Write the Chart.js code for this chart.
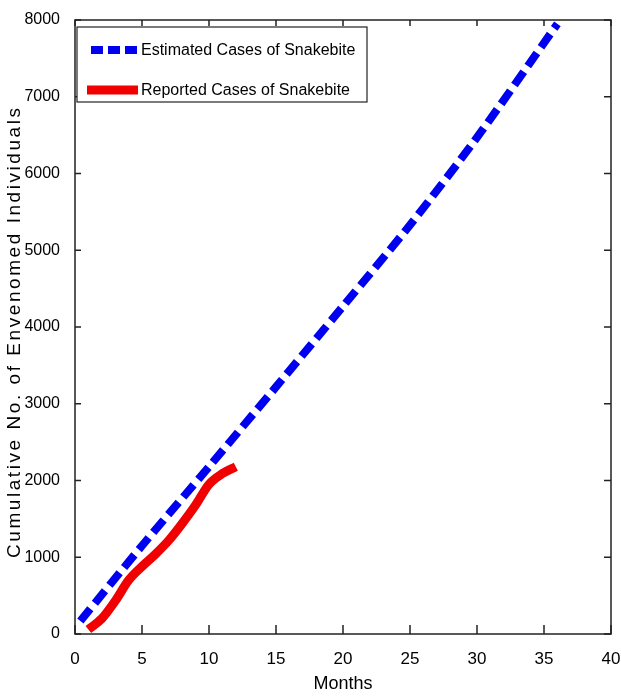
<!DOCTYPE html>
<html>
<head>
<meta charset="utf-8">
<script src="https://cdn.jsdelivr.net/npm/chart.js@4.4.0/dist/chart.umd.min.js"></script>
<style>
  html, body { margin: 0; padding: 0; background: #fff; }
  #wrap { width: 621px; height: 697px; }
</style>
</head>
<body>
<div id="wrap"><canvas id="snakeChart"></canvas></div>
<script>
// values
const estimatedMonths = [0.4, 5, 10, 15, 20, 25, 30, 36];
const estimatedCases = [170, 1150, 2180, 3220, 4270, 5330, 6470, 7950];
const reportedMonths = [1, 2, 3, 4, 5, 6, 7, 8, 9, 10, 11, 12];
const reportedCases = [60, 200, 430, 700, 880, 1040, 1220, 1440, 1680, 1950, 2090, 2180];
const seriesLabels = ['Estimated Cases of Snakebite', 'Reported Cases of Snakebite'];
const yTitle = 'Cumulative No. of Envenomed Individuals';

const SANS = "'Liberation Sans', Arial, sans-serif";
const BLUE = '#0000f0';
const RED = '#f00000';

function toPoints(xs, ys) {
  return xs.map((m, i) => ({ x: m, y: ys[i] }));
}

// matlab style box: full frame, inward ticks, legend inside the axes
const matlabBox = {
  id: 'matlabBox',
  afterDatasetsDraw(chart) {
    const { ctx, chartArea: a, scales: { x, y } } = chart;
    ctx.save();
    ctx.strokeStyle = '#222';
    ctx.lineWidth = 1.5;
    ctx.strokeRect(a.left, a.top, a.right - a.left, a.bottom - a.top);
    ctx.beginPath();
    x.ticks.forEach(t => {
      const px = x.getPixelForValue(t.value);
      ctx.moveTo(px, a.bottom); ctx.lineTo(px, a.bottom - 9);
      ctx.moveTo(px, a.top); ctx.lineTo(px, a.top + 6);
    });
    y.ticks.forEach(t => {
      const py = y.getPixelForValue(t.value);
      ctx.moveTo(a.left, py); ctx.lineTo(a.left + 6, py);
      ctx.moveTo(a.right, py); ctx.lineTo(a.right - 7, py);
    });
    ctx.stroke();

    // legend
    const lx = a.left + 2, ly = a.top + 7;
    ctx.fillStyle = '#fff';
    ctx.fillRect(lx, ly, 290, 75);
    ctx.lineWidth = 1.2;
    ctx.strokeRect(lx, ly, 290, 75);

    ctx.lineCap = 'butt';
    ctx.strokeStyle = BLUE;
    ctx.lineWidth = 8;
    ctx.setLineDash([12, 5]);
    ctx.beginPath();
    ctx.moveTo(lx + 14, ly + 23); ctx.lineTo(lx + 61, ly + 23);
    ctx.stroke();
    ctx.setLineDash([]);
    ctx.strokeStyle = RED;
    ctx.lineWidth = 9;
    ctx.beginPath();
    ctx.moveTo(lx + 10, ly + 63); ctx.lineTo(lx + 61, ly + 63);
    ctx.stroke();

    ctx.fillStyle = '#000';
    ctx.font = '16px ' + SANS;
    ctx.textBaseline = 'middle';
    ctx.fillText(seriesLabels[0], lx + 64, ly + 24);
    ctx.fillText(seriesLabels[1], lx + 64, ly + 64);

    // y axis title, letter-spaced like the original
    ctx.font = '19px ' + SANS;
    const n = yTitle.length;
    const w0 = ctx.measureText(yTitle).width;
    ctx.letterSpacing = ((450 - w0) / (n - 1)).toFixed(2) + 'px';
    ctx.translate(15, 333);
    ctx.rotate(-Math.PI / 2);
    ctx.textAlign = 'left';
    ctx.fillText(yTitle, -225, 0);
    ctx.restore();
  }
};

const config = {
  type: 'line',
  data: {
    datasets: [
      {
        label: seriesLabels[0],
        data: toPoints(estimatedMonths, estimatedCases),
        borderColor: BLUE,
        borderWidth: 8,
        borderDash: [16, 7],
        borderCapStyle: 'butt',
        pointRadius: 0,
        tension: 0.3,
        order: 1
      },
      {
        label: seriesLabels[1],
        data: toPoints(reportedMonths, reportedCases),
        borderColor: RED,
        borderWidth: 9,
        pointRadius: 0,
        cubicInterpolationMode: 'monotone',
        order: 0
      }
    ]
  },
  options: {
    animation: false,
    responsive: true,
    maintainAspectRatio: false,
    layout: { padding: { left: 0, top: 20, right: 10, bottom: 0 } },
    plugins: {
      legend: { display: false },
      tooltip: { enabled: false }
    },
    scales: {
      x: {
        type: 'linear',
        min: 0,
        max: 40,
        grid: { display: false },
        border: { display: false },
        ticks: {
          stepSize: 5,
          padding: 7,
          color: '#000',
          font: { family: SANS, size: 17 },
          callback: v => String(v)
        },
        title: {
          display: true,
          text: 'Months',
          color: '#000',
          padding: { top: 0, bottom: 2 },
          font: { family: SANS, size: 18 }
        },
        afterFit(scale) {
          scale.height = 63;
          scale.paddingLeft = 0;
          scale.paddingRight = 0;
        }
      },
      y: {
        min: 0,
        max: 8000,
        grid: { display: false },
        border: { display: false },
        ticks: {
          stepSize: 1000,
          padding: 7,
          color: '#000',
          font: { family: SANS, size: 16 },
          callback: v => String(v)
        },
        title: { display: false, text: yTitle },
        afterFit(scale) {
          scale.width = 75;
          scale.paddingTop = 0;
          scale.paddingBottom = 0;
        }
      }
    }
  },
  plugins: [matlabBox]
};

new Chart(document.getElementById('snakeChart'), config);
</script>
</body>
</html>
